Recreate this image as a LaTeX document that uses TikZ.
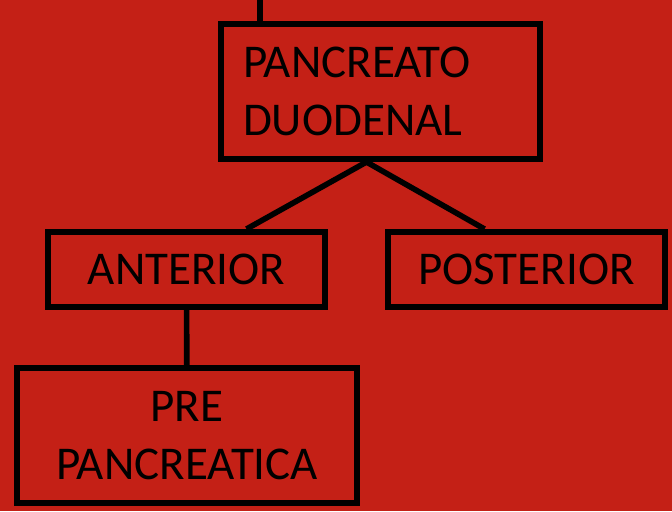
\documentclass[tikz,border=0pt]{standalone}
\usepackage{fontspec}
\setmainfont{Carlito}
\usetikzlibrary{positioning,calc}
\definecolor{bgred}{RGB}{196,32,22}

\begin{document}
\begin{tikzpicture}[x=0.5pt,y=-0.5pt]
\tikzset{box/.style={draw,line width=3pt,inner sep=0pt,font=\fontsize{23.5}{29}\selectfont},
         link/.style={line width=2.8pt}};
   \fill[bgred] (0,0) rectangle (672,511);
   \useasboundingbox (0,0) rectangle (672,511);

   \node[box,align=left,text width=137.5pt,inner xsep=11pt,minimum height=67.5pt] at (380.5,91.5) (pd) {PANCREATO\\DUODENAL};
   \node[box,minimum width=138.5pt,minimum height=37.5pt] at (186.5,269.5) (ant) {ANTERIOR};
   \node[box,minimum width=138.5pt,minimum height=37.5pt] at (526.5,269.5) (post) {POSTERIOR};
   \node[box,align=center,minimum width=170pt,minimum height=67.5pt] at (187,435.5) (pre) {PRE\\PANCREATICA};

   \coordinate (top) at (260,0);
   \coordinate (split) at ([xshift=-7pt]pd.south);

   \draw[link] (top) -- (top |- pd.north);
   \draw[link] (split) -- ([xshift=30pt]ant.north);
   \draw[link] (split) -- ([xshift=-21pt]post.north);
   \draw[link] (ant) -- (pre);

\end{tikzpicture}
\end{document}
